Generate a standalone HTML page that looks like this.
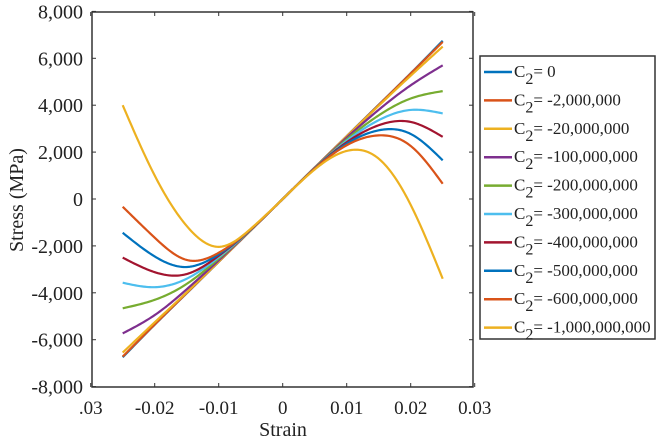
<!DOCTYPE html>
<html><head><meta charset="utf-8"><style>
body{margin:0;background:#fff}
svg{display:block;font-family:"Liberation Serif",serif}
</style></head><body>
<svg id="chart" width="660" height="441">
<g id="axes"></g><g id="series"></g><g id="legend"></g>
</svg>
<script>
const xs = [-0.025,-0.02,-0.015,-0.01,-0.005,0,0.005,0.01,0.015,0.02,0.025];
const labels = ["0","-2,000,000","-20,000,000","-100,000,000","-200,000,000","-300,000,000","-400,000,000","-500,000,000","-600,000,000","-1,000,000,000"];
const colors = ["#0072BD","#D95319","#EDB120","#7E2F8E","#77AC30","#4DBEEE","#A2142F","#0072BD","#D95319","#EDB120"];
const s0 = [-6750,-5360,-4020,-2680,-1340,0,1340,2680,4020,5360,6750];
const s1 = [-6720,-5350,-4010,-2675,-1340,0,1340,2675,4010,5350,6700];
const s2 = [-6550,-5260,-3980,-2667,-1338,0,1338,2667,3977,5258,6500];
const s3 = [-5730,-4950,-3850,-2616,-1332,0,1332,2616,3804,4848,5700];
const s4 = [-4660,-4300,-3620,-2546,-1323,0,1323,2546,3566,4285,4600];
const s5 = [-3570,-3760,-3400,-2485,-1316,0,1316,2485,3361,3798,3650];
const s6 = [-2500,-3120,-3200,-2421,-1308,0,1308,2421,3145,3286,2650];
const s7 = [-1440,-2450,-2900,-2357,-1300,0,1300,2357,2929,2774,1650];
const s8 = [-330,-1650,-2600,-2293,-1292,0,1292,2293,2713,2262,650];
const s9 = [4000,1000,-1150,-2040,-1270,0,1259,2050,1720,-250,-3400];
const series = [s0,s1,s2,s3,s4,s5,s6,s7,s8,s9];
const xTicks = [-0.03,-0.02,-0.01,0,0.01,0.02,0.03];
const xTickLabels = [".03","-0.02","-0.01","0","0.01","0.02","0.03"];
const yTicks = [-8000,-6000,-4000,-2000,0,2000,4000,6000,8000];
const yTickLabels = ["-8,000","-6,000","-4,000","-2,000","0","2,000","4,000","6,000","8,000"];

const L=92,R=473,T=12,B=387;
const sx=v=>282.7+v*6400;
const sy=v=>199-v*(46.9/2000);
const NS="http://www.w3.org/2000/svg";
function mk(tag,attrs,parent){const e=document.createElementNS(NS,tag);for(const k in attrs)e.setAttribute(k,attrs[k]);parent.appendChild(e);return e;}
const axes=document.getElementById('axes');
const box=mk('rect',{x:L,y:T,width:R-L,height:B-T,fill:'none',stroke:'#333','stroke-width':1.5},axes);


xTicks.forEach((v,i)=>{
  const x=sx(v);
  mk('line',{x1:x,y1:B,x2:x,y2:B-4,stroke:'#333'},axes);
  mk('line',{x1:x,y1:T,x2:x,y2:T+4,stroke:'#333'},axes);
  const t=mk('text',{x:x,y:414,'text-anchor':'middle','font-size':19,fill:'#222'},axes);
  t.textContent=xTickLabels[i];
  
  
});
yTicks.forEach((v,i)=>{
  const y=sy(v);
  mk('line',{x1:L,y1:y,x2:L+4,y2:y,stroke:'#333'},axes);
  mk('line',{x1:R,y1:y,x2:R-4,y2:y,stroke:'#333'},axes);
  const t=mk('text',{x:83,y:y+7,'text-anchor':'end','font-size':20,fill:'#222'},axes);
  t.textContent=yTickLabels[i];
  
  
});
const xt=mk('text',{x:283,y:436,'text-anchor':'middle','font-size':20,fill:'#222'},axes);
xt.textContent='Strain';


const yt=mk('text',{x:0,y:0,'text-anchor':'middle','font-size':20,fill:'#222',transform:'translate(23,200) rotate(-90)'},axes);
yt.textContent='Stress (MPa)';



function spline(xv,yv){
  const n=xv.length, h=[], a=[], l=[1], mu=[0], z=[0], c=new Array(n).fill(0), b=[], d=[];
  for(let i=0;i<n-1;i++)h.push(xv[i+1]-xv[i]);
  for(let i=1;i<n-1;i++)a[i]=3/h[i]*(yv[i+1]-yv[i])-3/h[i-1]*(yv[i]-yv[i-1]);
  for(let i=1;i<n-1;i++){l[i]=2*(xv[i+1]-xv[i-1])-h[i-1]*mu[i-1];mu[i]=h[i]/l[i];z[i]=(a[i]-h[i-1]*z[i-1])/l[i];}
  for(let j=n-2;j>=0;j--){c[j]=(j===0?0:z[j]-mu[j]*c[j+1]);b[j]=(yv[j+1]-yv[j])/h[j]-h[j]*(c[j+1]+2*c[j])/3;d[j]=(c[j+1]-c[j])/(3*h[j]);}
  c[0]=0;
  b[0]=(yv[1]-yv[0])/h[0]-h[0]*(c[1])/3;d[0]=c[1]/(3*h[0]);
  return x=>{let j=Math.min(n-2,Math.max(0,xv.findIndex((v,i)=>i<n-1&&x<=xv[i+1])));if(j<0)j=n-2;const t=x-xv[j];return yv[j]+b[j]*t+c[j]*t*t+d[j]*t*t*t;};
}
const sg=document.getElementById('series');
for(let k=0;k<series.length;k++){
  const f=spline(xs,series[k]);
  const x0=xs[0],x1=xs[xs.length-1];
  let dstr='';
  for(let s=0;s<=200;s++){const x=x0+(x1-x0)*s/200;dstr+=(s?'L':'M')+sx(x).toFixed(2)+','+sy(f(x)).toFixed(2);}
  const p=mk('path',{d:dstr,fill:'none',stroke:colors[k],'stroke-width':2.2,'stroke-linejoin':'round'},sg);
  
  
}
const lg=document.getElementById('legend');
const lb=mk('rect',{x:480,y:56,width:175,height:283,fill:'#fff',stroke:'#333','stroke-width':1.5},lg);


labels.forEach((lab,i)=>{
  const y=72+i*28.4;
  const g=mk('g',{},lg);
  
  
  mk('line',{x1:484,y1:y,x2:512,y2:y,stroke:colors[i],'stroke-width':2.5},g);
  const t=mk('text',{x:514,y:y+5,'font-size':17,fill:'#222'},g);
  t.innerHTML='C<tspan dy="7" font-size="16">2</tspan><tspan dy="-7">= '+lab+'</tspan>';
});
</script>
</body></html>
